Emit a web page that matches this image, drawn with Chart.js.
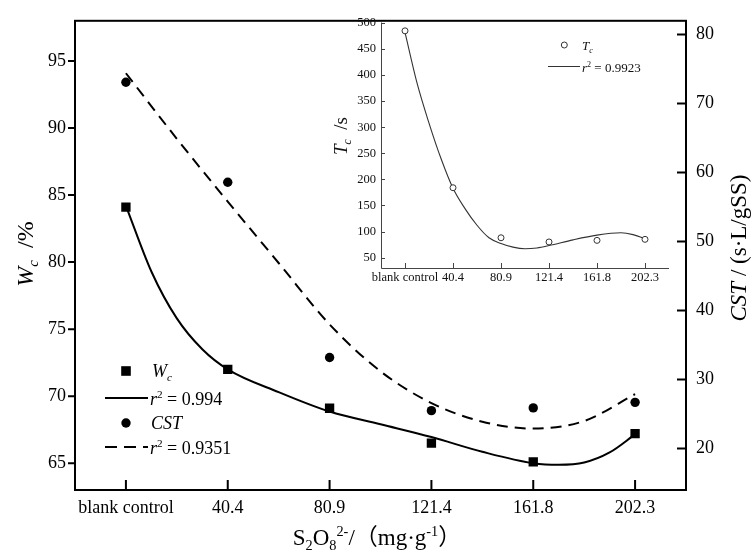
<!DOCTYPE html>
<html>
<head>
<meta charset="utf-8">
<script src="https://cdn.jsdelivr.net/npm/chart.js@4.4.1/dist/chart.umd.min.js"></script>
<style>
  html, body { margin: 0; padding: 0; background: #fff; }
  #wrap { position: relative; width: 751px; height: 558px; }
  #main { position: absolute; left: 0; top: 0; }
  #inset { position: absolute; left: 290px; top: 10px; }
</style>
</head>
<body>
<div id="wrap">
  <canvas id="main" width="751" height="558"></canvas>
  <canvas id="inset" width="390" height="280"></canvas>
</div>
<script>
// categories on the x axis (shared by main chart and inset)
const categories = ["blank control", "40.4", "80.9", "121.4", "161.8", "202.3"];

// measured points
const wcValues = [84.1, 72.0, 69.1, 66.5, 65.1, 67.2];   // W_c /% (left axis)
const cstValues = [73.1, 58.6, 33.2, 25.5, 25.9, 26.7];  // CST (right axis)
const tcValues = [485, 184, 88, 80, 83, 85];             // T_c /s (inset)

// fitted curves (x = category index)
const wcFitX = [0, 0.25, 0.5, 0.75, 1, 1.5, 2, 2.5, 3, 3.5, 4, 4.25, 4.5, 4.75, 5];
const wcFitY = [84.2, 79.3, 75.8, 73.5, 72.0, 70.3, 68.85, 67.9, 66.95, 65.85, 65.0, 64.88, 65.05, 65.8, 67.15];
const cstFitX = [0, 0.5, 1, 1.5, 2, 2.5, 3, 3.5, 4, 4.5, 5];
const cstFitY = [74.4, 64.9, 55.8, 46.9, 38.0, 31.2, 26.6, 23.9, 22.9, 24.0, 27.9];
const tcFitX = [0, 0.25, 0.5, 0.75, 1, 1.25, 1.5, 1.75, 2, 2.25, 2.5, 2.75, 3, 3.5, 4, 4.5, 4.75, 5];
const tcFitY = [482, 385, 308, 240, 183, 144, 112, 88, 77, 70, 67, 68.5, 73, 84, 93, 97.5, 94, 86];

// tick values
const wcTicks = [65, 70, 75, 80, 85, 90, 95];
const cstTicks = [20, 30, 40, 50, 60, 70, 80];
const tcTicks = [50, 100, 150, 200, 250, 300, 350, 400, 450, 500];

const SERIF = '"Liberation Serif", "Times New Roman", "Noto Sans CJK SC", serif';

function xy(xs, ys) {
    return xs.map((x, i) => ({ x: x, y: ys[i] }));
}

function partFont(p, size) {
    const s = p.sub || p.sup ? size * 0.62 : size;
    return (p.i ? "italic " : "") + s.toFixed(1) + "px " + SERIF;
}

function richWidth(ctx, parts, size) {
    let w = 0;
    parts.forEach((p) => {
        ctx.font = partFont(p, size);
        w += ctx.measureText(p.t).width;
    });
    return w;
}

// draws text made of plain / italic / sub / sup pieces, (x, y) = baseline
function drawRich(ctx, parts, x, y, size, opts) {
    opts = opts || {};
    ctx.save();
    ctx.translate(x, y);
    if (opts.rotate) ctx.rotate(opts.rotate);
    ctx.fillStyle = opts.color || "#000";
    ctx.textAlign = "left";
    ctx.textBaseline = "alphabetic";
    let cx = opts.center ? -richWidth(ctx, parts, size) / 2 : 0;
    parts.forEach((p) => {
        ctx.font = partFont(p, size);
        const dy = p.sub ? size * 0.22 : p.sup ? -size * 0.38 : 0;
        ctx.fillText(p.t, cx, dy);
        cx += ctx.measureText(p.t).width;
    });
    ctx.restore();
}

function tickList(values) {
    return (s) => { s.ticks = values.map((v) => ({ value: v })); };
}

// frame, tick marks, axis titles and legend of the main chart
const mainDecor = {
    id: "mainDecor",
    afterDraw(chart) {
        const { ctx, chartArea: a, scales } = chart;
        ctx.save();
        ctx.strokeStyle = "#000";
        ctx.lineWidth = 2;
        ctx.strokeRect(a.left, a.top, a.right - a.left, a.bottom - a.top);
        ctx.beginPath();
        scales.y.ticks.forEach((t) => {
            const y = scales.y.getPixelForValue(t.value);
            ctx.moveTo(a.left - 7, y);
            ctx.lineTo(a.left, y);
        });
        scales.x.ticks.forEach((t) => {
            const x = scales.x.getPixelForValue(t.value);
            ctx.moveTo(x, a.bottom);
            ctx.lineTo(x, a.bottom - 10);
        });
        scales.y1.ticks.forEach((t) => {
            const y = scales.y1.getPixelForValue(t.value);
            ctx.moveTo(a.right, y);
            ctx.lineTo(a.right - 9, y);
        });
        ctx.stroke();

        // axis titles
        drawRich(ctx, [{ t: "W", i: true }, { t: "c", i: true, sub: true }, { t: "  /%" }],
            33, 254, 24, { center: true, rotate: -Math.PI / 2 });
        drawRich(ctx, [{ t: "CST", i: true }, { t: " / (s·L/gSS)" }],
            746, 248, 23, { center: true, rotate: -Math.PI / 2 });
        drawRich(ctx, [
            { t: "S" }, { t: "2", sub: true }, { t: "O" }, { t: "8", sub: true },
            { t: "2-", sup: true }, { t: "/（mg·g" }, { t: "-1", sup: true }, { t: "）" }
        ], 377, 545, 23, { center: true });

        // legend
        ctx.fillStyle = "#000";
        ctx.fillRect(126 - 4.8, 371 - 4.8, 9.6, 9.6);
        ctx.beginPath();
        ctx.arc(126, 423, 4.7, 0, Math.PI * 2);
        ctx.fill();
        ctx.lineWidth = 2;
        ctx.beginPath();
        ctx.moveTo(105, 398);
        ctx.lineTo(148, 398);
        ctx.stroke();
        ctx.setLineDash([12, 7]);
        ctx.beginPath();
        ctx.moveTo(105, 447);
        ctx.lineTo(148, 447);
        ctx.stroke();
        ctx.setLineDash([]);
        drawRich(ctx, [{ t: "W", i: true }, { t: "c", i: true, sub: true }], 152, 377, 18);
        drawRich(ctx, [{ t: "r", i: true }, { t: "2", sup: true }, { t: " = 0.994" }], 150, 405, 18);
        drawRich(ctx, [{ t: "CST", i: true }], 151, 429, 18);
        drawRich(ctx, [{ t: "r", i: true }, { t: "2", sup: true }, { t: " = 0.9351" }], 150, 454, 18);
        ctx.restore();
    },
};

new Chart(document.getElementById("main"), {
    type: "scatter",
    data: {
        datasets: [
            {
                label: "Wc",
                data: xy(categories.map((_, i) => i), wcValues),
                yAxisID: "y",
                pointStyle: "rect",
                pointRadius: 6.6,
                backgroundColor: "#000",
                borderColor: "#000",
                borderWidth: 0,
                order: 0,
            },
            {
                label: "CST",
                data: xy(categories.map((_, i) => i), cstValues),
                yAxisID: "y1",
                pointStyle: "circle",
                pointRadius: 4.7,
                backgroundColor: "#000",
                borderColor: "#000",
                borderWidth: 0,
                order: 0,
            },
            {
                label: "Wc fit",
                data: xy(wcFitX, wcFitY),
                yAxisID: "y",
                showLine: true,
                pointRadius: 0,
                borderColor: "#000",
                borderWidth: 2,
                cubicInterpolationMode: "monotone",
                order: 1,
            },
            {
                label: "CST fit",
                data: xy(cstFitX, cstFitY),
                yAxisID: "y1",
                showLine: true,
                pointRadius: 0,
                borderColor: "#000",
                borderWidth: 2,
                borderDash: [11, 7],
                cubicInterpolationMode: "monotone",
                order: 1,
            },
        ],
    },
    options: {
        responsive: false,
        devicePixelRatio: 1,
        animation: false,
        layout: { padding: { top: 10, left: 0, right: 0, bottom: 0 } },
        plugins: { legend: { display: false }, tooltip: { enabled: false } },
        scales: {
            x: {
                type: "linear",
                min: -0.5,
                max: 5.5,
                afterBuildTicks: tickList(categories.map((_, i) => i)),
                afterFit: (s) => { s.height = 68; },
                grid: { display: false, drawTicks: false },
                border: { display: false },
                ticks: {
                    autoSkip: false,
                    maxRotation: 0,
                    padding: 7,
                    color: "#000",
                    font: { family: SERIF, size: 18 },
                    callback: (v) => categories[v] ?? "",
                },
            },
            y: {
                position: "left",
                min: 63,
                max: 98,
                afterBuildTicks: tickList(wcTicks),
                afterFit: (s) => { s.width = 75; },
                grid: { display: false, drawTicks: false },
                border: { display: false },
                ticks: { padding: 9, color: "#000", font: { family: SERIF, size: 18 } },
            },
            y1: {
                position: "right",
                min: 14,
                max: 82,
                afterBuildTicks: tickList(cstTicks),
                afterFit: (s) => { s.width = 65; },
                grid: { display: false, drawTicks: false },
                border: { display: false },
                ticks: { padding: 10, color: "#000", font: { family: SERIF, size: 18 } },
            },
        },
    },
    plugins: [mainDecor],
});

// inset: axes, ticks, title and legend
const insetDecor = {
    id: "insetDecor",
    afterDraw(chart) {
        const { ctx, chartArea: a, scales } = chart;
        ctx.save();
        ctx.strokeStyle = "#444";
        ctx.lineWidth = 1;
        ctx.beginPath();
        ctx.moveTo(a.left + 0.5, a.top);
        ctx.lineTo(a.left + 0.5, a.bottom + 0.5);
        ctx.lineTo(a.right, a.bottom + 0.5);
        scales.y.ticks.forEach((t) => {
            const y = Math.round(scales.y.getPixelForValue(t.value)) + 0.5;
            ctx.moveTo(a.left, y);
            ctx.lineTo(a.left + 4, y);
        });
        scales.x.ticks.forEach((t) => {
            const x = Math.round(scales.x.getPixelForValue(t.value)) + 0.5;
            ctx.moveTo(x, a.bottom);
            ctx.lineTo(x, a.bottom - 5);
        });
        ctx.stroke();

        drawRich(ctx, [{ t: "T", i: true }, { t: "c", i: true, sub: true }, { t: "  /s" }],
            57, 126, 19, { center: true, rotate: -Math.PI / 2, color: "#111" });

        ctx.strokeStyle = "#333";
        ctx.beginPath();
        ctx.arc(274.3, 35, 3, 0, Math.PI * 2);
        ctx.stroke();
        ctx.beginPath();
        ctx.moveTo(258, 56.5);
        ctx.lineTo(290, 56.5);
        ctx.stroke();
        drawRich(ctx, [{ t: "T", i: true }, { t: "c", i: true, sub: true }], 292, 40, 13, { color: "#111" });
        drawRich(ctx, [{ t: "r", i: true }, { t: "2", sup: true }, { t: " = 0.9923" }], 292, 61.5, 13, { color: "#111" });
        ctx.restore();
    },
};

new Chart(document.getElementById("inset"), {
    type: "scatter",
    data: {
        datasets: [
            {
                label: "Tc",
                data: xy(categories.map((_, i) => i), tcValues),
                pointStyle: "circle",
                pointRadius: 3,
                backgroundColor: "#fff",
                borderColor: "#333",
                borderWidth: 1,
                order: 0,
            },
            {
                label: "Tc fit",
                data: xy(tcFitX, tcFitY),
                showLine: true,
                pointRadius: 0,
                borderColor: "#333",
                borderWidth: 1.1,
                cubicInterpolationMode: "monotone",
                order: 1,
            },
        ],
    },
    options: {
        responsive: false,
        devicePixelRatio: 1,
        animation: false,
        layout: { padding: { top: 10, left: 0, right: 11, bottom: 0 } },
        plugins: { legend: { display: false }, tooltip: { enabled: false } },
        scales: {
            x: {
                type: "linear",
                min: -0.5,
                max: 5.5,
                afterBuildTicks: tickList(categories.map((_, i) => i)),
                afterFit: (s) => { s.height = 22; },
                grid: { display: false, drawTicks: false },
                border: { display: false },
                ticks: {
                    autoSkip: false,
                    maxRotation: 0,
                    padding: 2,
                    color: "#111",
                    font: { family: SERIF, size: 12.5 },
                    callback: (v) => categories[v] ?? "",
                },
            },
            y: {
                min: 30,
                max: 501,
                afterBuildTicks: tickList(tcTicks),
                afterFit: (s) => { s.width = 91; },
                grid: { display: false, drawTicks: false },
                border: { display: false },
                ticks: { padding: 5, color: "#111", font: { family: SERIF, size: 12.5 } },
            },
        },
    },
    plugins: [insetDecor],
});
</script>
</body>
</html>
